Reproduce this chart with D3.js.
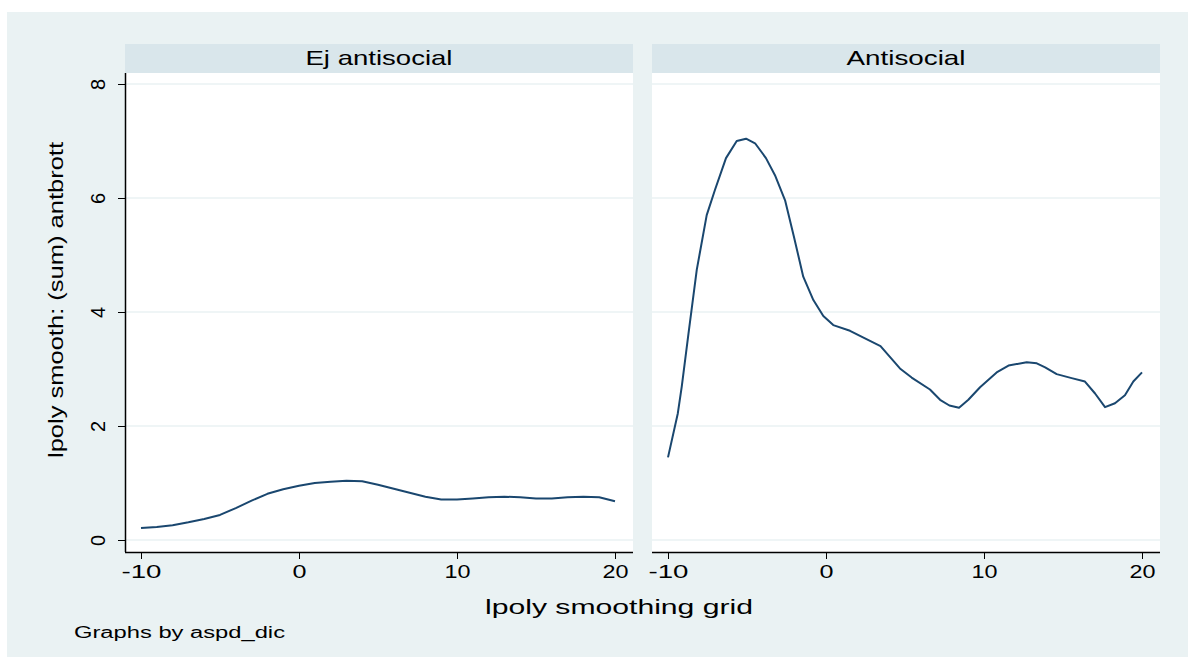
<!DOCTYPE html>
<html>
<head>
<meta charset="utf-8">
<script src="https://cdn.jsdelivr.net/npm/d3@7"></script>
<style>
html,body{margin:0;padding:0;background:#ffffff;}
svg{display:block;}
text{font-family:"Liberation Sans",Arial,sans-serif;fill:#000;}
</style>
</head>
<body>
<svg id="chart" width="1188" height="657"></svg>
<script>
// ---- data ----
const panels = ["Ej antisocial", "Antisocial"];
const xTicks = [-10, 0, 10, 20];
const yTicks = [0, 2, 4, 6, 8];

const leftX = [-10,-9,-8,-7,-6,-5,-4,-3,-2,-1,0,1,2,3,4,5,6,7,8,9,10,11,12,13,14,15,16,17,18,19,20];
const leftY = [0.21,0.23,0.26,0.31,0.37,0.44,0.56,0.69,0.81,0.89,0.95,1.00,1.02,1.04,1.03,0.97,0.90,0.83,0.76,0.71,0.71,0.73,0.75,0.76,0.75,0.73,0.73,0.75,0.76,0.75,0.68];

const rightX = [-10,-9.38,-9.13,-8.7,-8.18,-7.55,-7.03,-6.33,-5.65,-5.06,-4.49,-3.8,-3.23,-2.59,-2.03,-1.44,-0.8,-0.17,0.46,1.52,2.15,3.45,4.68,5.42,6.58,7.22,7.81,8.42,9.01,9.75,10.8,11.55,12.7,13.34,13.87,14.6,15.55,16.39,17.03,17.66,18.29,18.92,19.45,20.0];
const rightY = [1.45,2.22,2.69,3.63,4.74,5.70,6.14,6.70,7.00,7.04,6.96,6.70,6.40,5.96,5.32,4.62,4.21,3.93,3.77,3.67,3.58,3.40,3.01,2.85,2.64,2.46,2.36,2.32,2.46,2.68,2.94,3.06,3.12,3.10,3.03,2.91,2.84,2.78,2.57,2.33,2.40,2.54,2.78,2.94];

const series = [
  leftX.map((x,i)=>({x, y:leftY[i]})),
  rightX.map((x,i)=>({x, y:rightY[i]}))
];

// ---- layout ----
const svg = d3.select("#chart");
const bg = "#eaf2f3";
const headerCol = "#d9e6eb";
const lineCol = "#1a476f";

svg.append("rect").attr("x",7).attr("y",12).attr("width",1181).attr("height",645).attr("fill",bg);

const panelLeft = [125, 652];
const panelW = 508;
const headerTop = 44, plotTop = 73, plotBottom = 552;
const headerLen = [147, 119];

const y = d3.scaleLinear().domain([0, 8]).range([540, 84]);
const tickLen = s => (s.length === 1 ? 14 : (s.length === 2 ? 26 : 40));

panels.forEach((name, i) => {
  const x0 = panelLeft[i];
  const x = d3.scaleLinear().domain([-10, 20]).range([x0 + 16, x0 + 490]);
  const g = svg.append("g");

  // header strip
  g.append("rect").attr("x", x0).attr("y", headerTop).attr("width", panelW).attr("height", plotTop - headerTop).attr("fill", headerCol);
  g.append("text").attr("x", x0 + panelW/2).attr("y", 65).attr("text-anchor","middle")
    .attr("font-size", 21).attr("textLength", headerLen[i]).attr("lengthAdjust","spacingAndGlyphs").text(name);

  // plot area
  g.append("rect").attr("x", x0).attr("y", plotTop).attr("width", panelW).attr("height", plotBottom - plotTop).attr("fill", "#ffffff");

  // gridlines
  g.selectAll(".grid").data(yTicks).enter().append("line")
    .attr("x1", x0).attr("x2", x0 + panelW)
    .attr("y1", d => y(d)).attr("y2", d => y(d))
    .attr("stroke", bg).attr("stroke-width", 1.5);

  // x axis
  const xAxis = d3.axisBottom(x).tickValues(xTicks).tickSize(7).tickPadding(6).tickFormat(d => String(d));
  const ax = g.append("g").attr("transform", `translate(0,${plotBottom})`).call(xAxis);
  ax.select(".domain").attr("d", `M${x0},0.5H${x0 + panelW}`).attr("stroke","#000").attr("stroke-width",1.5);
  ax.selectAll(".tick line").attr("stroke","#000");
  ax.selectAll(".tick text").attr("font-size", 19).attr("font-family","Liberation Sans, Arial, sans-serif")
    .attr("fill","#000")
    .attr("textLength", d => tickLen(String(d))).attr("lengthAdjust","spacingAndGlyphs");

  // y axis on left panel
  if (i === 0) {
    const yAxis = d3.axisLeft(y).tickValues(yTicks).tickSize(7).tickPadding(0).tickFormat(d => String(d));
    const ay = g.append("g").attr("transform", `translate(${x0},0)`).call(yAxis);
    ay.select(".domain").attr("d", `M0.5,${plotTop}V${plotBottom}`).attr("stroke","#000").attr("stroke-width",1.5);
    ay.selectAll(".tick line").attr("stroke","#000");
    ay.selectAll(".tick text").attr("font-size", 20).attr("fill","#000")
      .attr("x", null).attr("dy", null)
      .attr("text-anchor","middle")
      .attr("transform","translate(-20,0) rotate(-90)");
  }

  // line
  const line = d3.line().x(d => x(d.x)).y(d => y(d.y));
  g.append("path").datum(series[i]).attr("d", line)
    .attr("fill","none").attr("stroke", lineCol).attr("stroke-width", 2).attr("stroke-linejoin","round");
});

// axis titles
svg.append("text").attr("transform","translate(63,300) rotate(-90)")
  .attr("text-anchor","middle").attr("font-size",20)
  .attr("textLength",316).attr("lengthAdjust","spacingAndGlyphs")
  .text("lpoly smooth: (sum) antbrott");

svg.append("text").attr("x",619).attr("y",614).attr("text-anchor","middle").attr("font-size",20)
  .attr("textLength",268).attr("lengthAdjust","spacingAndGlyphs")
  .text("lpoly smoothing grid");

svg.append("text").attr("x",74).attr("y",638).attr("font-size",16)
  .attr("textLength",211).attr("lengthAdjust","spacingAndGlyphs")
  .text("Graphs by aspd_dic");
</script>
</body>
</html>
